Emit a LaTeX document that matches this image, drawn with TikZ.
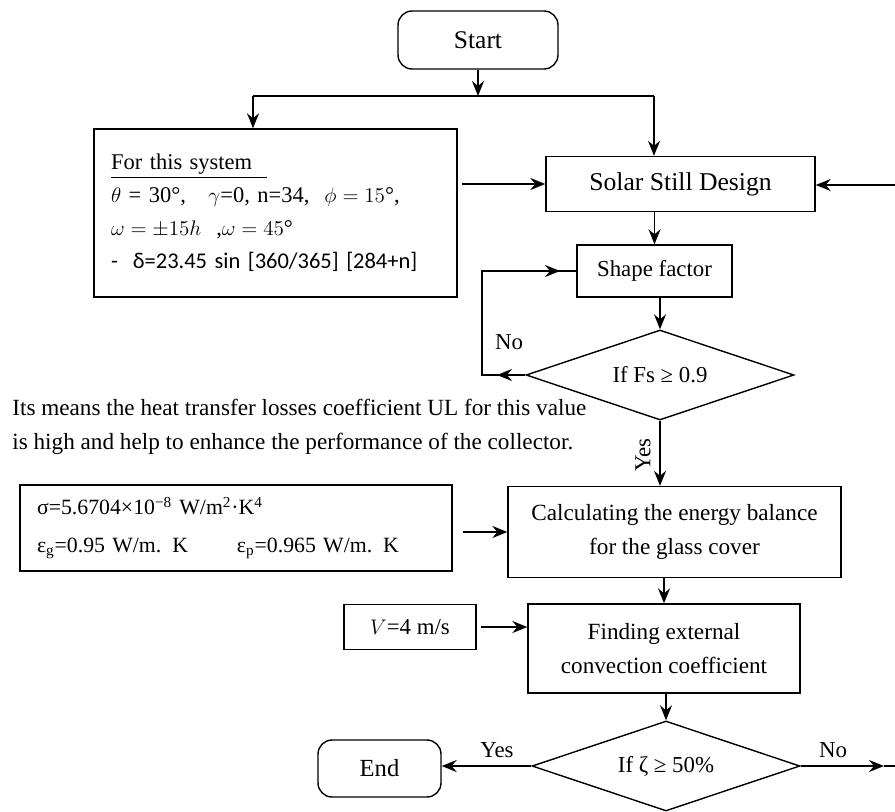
\documentclass[tikz,border=0pt]{standalone}
\usepackage{fontspec}
\setmainfont{Liberation Serif}
\newfontfamily\calfont{Carlito}
\usetikzlibrary{shapes.geometric,arrows.meta}

\begin{document}
\begin{tikzpicture} [
    x=0.02cm, y=-0.02cm,
    font=\fontsize{13}{15}\selectfont,
    block/.style    = { rectangle, draw, line width=0.8pt, text centered,
                        inner sep=0pt },
    term/.style     = { block, rounded corners=8pt },
    test/.style     = { diamond, draw, line width=0.8pt, aspect=3, inner sep=0pt,
                        minimum width=5.36cm, minimum height=1.8cm },
    line/.style     = { draw, line width=1pt,
                        -{Stealth[length=3mm, width=2.4mm, inset=1mm]} },
  ]
  \useasboundingbox (0,0) rectangle (895,811);

  % Define nodes
  \node[term, minimum width=3.2cm, minimum height=1.16cm,
        font=\fontsize{14.5}{16}\selectfont] (start) at (478,40) {Start};
  \node[block, minimum width=7.26cm, minimum height=3.36cm, align=left,
        text width=6.58cm, font=\fontsize{12.8}{18.7}\selectfont] (system) at (275.5,213)
       {\underline{For this system\ \ }\\
        $\theta$ = 30°,\quad $\gamma$=0, n=34,\ \ $\phi = 15$°,\\
        $\omega = \pm 15h$\ \ ,$\omega = 45$°\\
        {\calfont -\ \ δ=23.45 sin [360/365] [284+n]}};
  \node[block, minimum width=5.38cm, minimum height=1.1cm,
        font=\fontsize{14.6}{16}\selectfont] (solar) at (680.5,184) {Solar Still Design};
  \node[block, minimum width=3.1cm, minimum height=1.04cm] (shape) at (654.5,271) {Shape factor};
  \node[test] (fs) at (660,375) {If Fs ≥ 0.9};
  \node[align=left, anchor=west, inner sep=0pt, font=\fontsize{13.2}{19.3}\selectfont]
       (note) at (12,427)
       {Its means the heat transfer losses coefficient UL for this value\\
        is high and help to enhance the performance of the collector.};
  \node[block, minimum width=8.64cm, minimum height=1.72cm, align=left,
        text width=7.96cm, font=\fontsize{12.4}{21.5}\selectfont] (sigma) at (236,528)
       {σ=5.6704×10\textsuperscript{−8} W/m\textsuperscript{2}·K\textsuperscript{4}\\
        \makebox[4cm][l]{ε\textsubscript{g}=0.95 W/m. K}ε\textsubscript{p}=0.965 W/m. K};
  \node[block, minimum width=6.66cm, minimum height=1.82cm, align=center,
        font=\fontsize{13.2}{19.8}\selectfont] (calc) at (674.5,532)
       {Calculating the energy balance\\for the glass cover};
  \node[block, minimum width=2.64cm, minimum height=0.9cm] (vbox) at (410,627) {$V$=4 m/s};
  \node[block, minimum width=5.44cm, minimum height=1.78cm, align=center,
        font=\fontsize{13.2}{19.3}\selectfont] (finding) at (664,648.5)
       {Finding external\\convection coefficient};
  \node[test] (zeta) at (666,766) {If ζ ≥ 50\%};
  \node[term, minimum width=2.46cm, minimum height=1.14cm,
        font=\fontsize{14}{16}\selectfont] (stop) at (379.5,768.5) {End};

  % labels
  \node (no1)  at (509,342) {No};
  \node[rotate=90] (yes1) at (643,455) {Yes};
  \node (yes2) at (497,750) {Yes};
  \node (no2)  at (833,750) {No};

  % free ends
  \coordinate (split)  at (478,96);
  \coordinate (splitL) at (253,96);
  \coordinate (splitR) at (654,96);
  \coordinate (backIn) at (895,185);
  \coordinate (loopB)  at (482,375);
  \coordinate (noTip)  at (497,375);
  \coordinate (inTip)  at (560,271);
  \coordinate (noTip2) at (884,766);
  \coordinate (backOut) at (895,766);

  % connect the nodes
		\path [line] (start.south) -- (split);
		\draw [line width=1pt] (splitL) -- (splitR);
		\path [line] (splitL) -- (splitL |- system.north);
		\path [line] (splitR) -- (splitR |- solar.north);
		\path [line, shorten <=0.08cm] (system.east |- solar.west) -- (solar.west);
		\path [line] (backIn) -- (backIn -| solar.east);
		\path [line] (shape.north |- solar.south) -- (shape.north);
		\path [line] (fs.north |- shape.south) -- (fs.north);
		\draw [line width=1pt] (fs.west) -- (loopB) |- (shape.west);
		\path [line] (fs.west) -- (noTip);
		\path [line] (loopB |- shape.west) -- (inTip);
		\path [line] (fs.south) -- (fs.south |- calc.north);
		\path [line, shorten <=0.2cm] (sigma.east |- calc.west) -- (calc.west);
		\path [line] (finding.north |- calc.south) -- (finding.north);
		\path [line, shorten <=0.08cm] (vbox.east) -- (vbox.east -| finding.west);
		\path [line] (zeta.north |- finding.south) -- (zeta.north);
		\path [line] (zeta.west) -- (zeta.west -| stop.east);
		\path [line] (zeta.east) -- (noTip2);
		\draw [line width=1pt] (noTip2) -- (backOut);
\end{tikzpicture}
\end{document}
